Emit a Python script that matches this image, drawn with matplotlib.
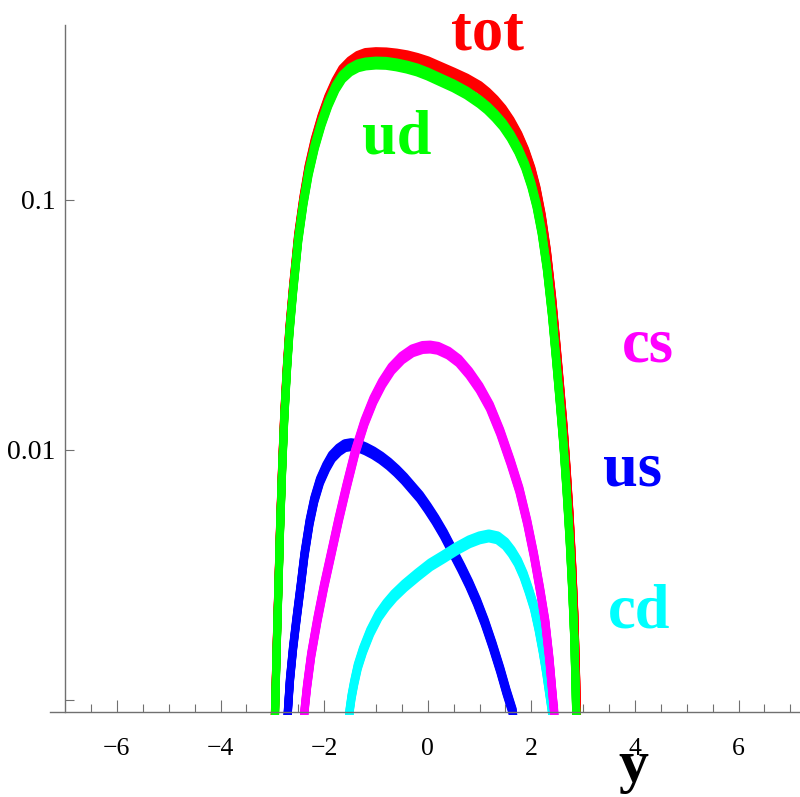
import matplotlib
matplotlib.use("Agg")
import matplotlib.pyplot as plt
from matplotlib import transforms
from matplotlib.patches import Rectangle
from matplotlib.ticker import FixedLocator, NullLocator

plt.rcParams["font.family"] = ["Liberation Serif", "DejaVu Serif"]

# rapidity / value pairs
tot_y = [-3.00, -2.95, -2.91, -2.88, -2.85, -2.81, -2.77, -2.72, -2.67, -2.60, -2.50,
         -2.40, -2.30, -2.18, -2.05, -1.92, -1.78, -1.65, -1.50, -1.35, -1.20, -1.00,
         -0.80, -0.60, -0.40, -0.20, 0.00, 0.25, 0.50, 0.75, 1.00, 1.15, 1.30, 1.45,
         1.60, 1.75, 1.88, 2.00, 2.10, 2.20, 2.30, 2.40, 2.48, 2.55, 2.62, 2.68, 2.74,
         2.79, 2.83, 2.86, 2.88, 2.92]
tot_v = [0.0004, 0.00088, 0.00183, 0.0030, 0.0050, 0.0087, 0.0138, 0.0213, 0.0306, 0.0446, 0.0720,
         0.101, 0.134, 0.172, 0.213, 0.254, 0.295, 0.329, 0.354, 0.372, 0.382, 0.385,
         0.384, 0.380, 0.374, 0.365, 0.354, 0.336, 0.319, 0.302, 0.282, 0.266, 0.248, 0.228,
         0.205, 0.180, 0.156, 0.132, 0.110, 0.0860, 0.0620, 0.0405, 0.0268, 0.0184, 0.0125, 0.0084, 0.0054,
         0.0034, 0.0022, 0.00135, 0.0009, 0.0004]

ud_y = [-3.00, -2.95, -2.91, -2.88, -2.85, -2.81, -2.77, -2.72, -2.67, -2.60, -2.50,
        -2.40, -2.30, -2.18, -2.05, -1.92, -1.78, -1.65, -1.50, -1.35, -1.20, -1.00,
        -0.80, -0.60, -0.40, -0.20, 0.00, 0.25, 0.50, 0.75, 1.00, 1.15, 1.30, 1.45,
        1.60, 1.75, 1.88, 2.00, 2.10, 2.20, 2.30, 2.40, 2.48, 2.55, 2.62, 2.68, 2.74,
        2.79, 2.83, 2.86, 2.91]
ud_v = [0.0004, 0.00084, 0.00175, 0.00288, 0.00479, 0.00832, 0.0132, 0.0205, 0.0294, 0.0429, 0.0692,
        0.0973, 0.128, 0.164, 0.203, 0.242, 0.281, 0.310, 0.331, 0.344, 0.350, 0.353,
        0.352, 0.347, 0.340, 0.331, 0.319, 0.302, 0.286, 0.268, 0.247, 0.233, 0.217, 0.200,
        0.180, 0.158, 0.137, 0.115, 0.0955, 0.0745, 0.0535, 0.0347, 0.0229, 0.0156, 0.0105, 0.00692, 0.00437,
        0.00275, 0.00174, 0.0010, 0.0004]

us_y = [-2.76, -2.70, -2.66, -2.60, -2.53, -2.45, -2.38, -2.28, -2.19, -2.08, -1.96,
        -1.85, -1.72, -1.60, -1.48, -1.35, -1.20, -1.05, -0.90, -0.75, -0.60, -0.45,
        -0.30, -0.15, 0.00, 0.15, 0.31, 0.50, 0.65, 0.80, 0.95, 1.10, 1.25, 1.40,
        1.52, 1.64, 1.75]
us_v = [0.0005, 0.0009, 0.00120, 0.00161, 0.00213, 0.00288, 0.00380, 0.00515, 0.00631, 0.00752, 0.00855,
        0.00938, 0.0100, 0.0104, 0.0105, 0.0104, 0.0101, 0.00973, 0.00929, 0.00879, 0.00824, 0.00766,
        0.00705, 0.00649, 0.00586, 0.00525, 0.00461, 0.00387, 0.00337, 0.00291, 0.00247, 0.00205, 0.00166, 0.00132,
        0.00108, 0.0009, 0.0005]

cd_y = [-1.56, -1.51, -1.47, -1.42, -1.35, -1.25, -1.11, -0.95, -0.80, -0.65, -0.45,
        -0.20, 0.05, 0.30, 0.55, 0.80, 1.00, 1.18, 1.35, 1.50, 1.62, 1.74, 1.85,
        1.95, 2.05, 2.14, 2.22, 2.29, 2.35, 2.40, 2.45]
cd_v = [0.0005, 0.0009, 0.00103, 0.00117, 0.00136, 0.00158, 0.00187, 0.00217, 0.00240, 0.00261, 0.00286,
        0.00316, 0.00347, 0.00373, 0.00402, 0.00429, 0.00445, 0.00453, 0.00445, 0.00421, 0.00391, 0.00356, 0.00316,
        0.00275, 0.00236, 0.00194, 0.00158, 0.00129, 0.00106, 0.0009, 0.0005]

cs_y = [-2.45, -2.38, -2.33, -2.25, -2.13, -2.00, -1.86, -1.72, -1.57, -1.40, -1.22,
        -1.05, -0.88, -0.70, -0.50, -0.30, -0.10, 0.05, 0.20, 0.40, 0.60, 0.80,
        1.00, 1.20, 1.40, 1.60, 1.77, 1.92, 2.05, 2.17, 2.27, 2.35, 2.41, 2.44, 2.50]
cs_v = [0.0005, 0.0009, 0.00113, 0.00151, 0.00209, 0.00286, 0.00387, 0.00525, 0.00711, 0.00982, 0.0129,
        0.0158, 0.0185, 0.0211, 0.0233, 0.0249, 0.0257, 0.0258, 0.0255, 0.0244, 0.0227, 0.0203,
        0.0177, 0.0149, 0.0118, 0.00895, 0.00692, 0.00515, 0.00380, 0.00275, 0.00205, 0.00145, 0.00105, 0.0009, 0.0005]

x_ticks = [-6, -4, -2, 0, 2, 4, 6]
x_tick_labels = ["\u22126", "\u22124", "\u22122", "0", "2", "4", "6"]
y_ticks = [0.001, 0.01, 0.1]
y_tick_labels = ["", "0.01", "0.1"]

fig = plt.figure(figsize=(8, 7.97), dpi=100)
fig.patch.set_facecolor("white")
ax = fig.add_axes([0, 0, 1, 1])
ax.set_yscale("log")
ax.set_xlim(-8.257, 7.187)
ax.set_ylim(0.000409, 0.631)
ax.set_autoscale_on(False)

# clip the curves just below the horizontal axis
clip = Rectangle((0, 1 - 715 / 797), 1, 715 / 797, transform=ax.transAxes)


def thick_curve(x, v, color):
    # lines look thicker vertically than horizontally, so stack a few shifted copies
    for dy in [-2.5, -1.25, 0, 1.25, 2.5]:
        tr = transforms.offset_copy(ax.transData, fig=fig, x=0, y=dy, units="dots")
        line, = ax.plot(x, v, color=color, lw=8 * 72 / 100, transform=tr,
                        solid_joinstyle="round", solid_capstyle="butt")
        line.set_clip_path(clip)


thick_curve(tot_y, tot_v, "#FF0000")
thick_curve(ud_y, ud_v, "#00FF00")
thick_curve(us_y, us_v, "#0000FF")
thick_curve(cd_y, cd_v, "#00FFFF")
thick_curve(cs_y, cs_v, "#FF00FF")

# axes crossing at (-7, ~0.0009)
ax.spines[["top", "right"]].set_visible(False)
ax.spines["bottom"].set_position(("data", 0.000895))
ax.spines["left"].set_position(("data", -7.0))
ax.spines["bottom"].set_bounds(-7.29, 7.187)
ax.spines["left"].set_bounds(0.000895, 0.501)
for s in ["bottom", "left"]:
    ax.spines[s].set_color("#707070")
    ax.spines[s].set_linewidth(1.0)

ax.set_xticks(x_ticks)
ax.set_xticklabels(x_tick_labels)
ax.xaxis.set_minor_locator(FixedLocator([t / 2 for t in range(-13, 15) if t % 4 != 0]))
ax.yaxis.set_major_locator(FixedLocator(y_ticks))
ax.set_yticklabels(y_tick_labels)
ax.yaxis.set_minor_locator(NullLocator())

ax.tick_params(axis="x", which="major", direction="in", length=9, width=0.8,
               color="#707070", pad=18.5, labelsize=18.5)
ax.tick_params(axis="x", which="minor", direction="in", length=6, width=0.8,
               color="#707070")
ax.tick_params(axis="y", which="major", direction="in", length=6.5, width=0.8,
               color="#707070", pad=7, labelsize=20)

# curve labels
labels = [("tot", "#FF0000", 488, 50),
          ("ud", "#00FF00", 397, 153),
          ("cs", "#FF00FF", 648, 361),
          ("us", "#0000FF", 632, 486),
          ("cd", "#00FFFF", 639, 627)]
for s, c, px, py in labels:
    ax.text(px / 800, 1 - py / 797, s, transform=ax.transAxes, ha="center",
            va="baseline", fontsize=45, fontweight="bold", color=c)

ax.text(633 / 800, 1 - 781 / 797, "y", transform=ax.transAxes, ha="center",
        va="baseline", fontsize=43, fontweight="bold", color="black")

fig.savefig("out.png", dpi=100, facecolor="white")
